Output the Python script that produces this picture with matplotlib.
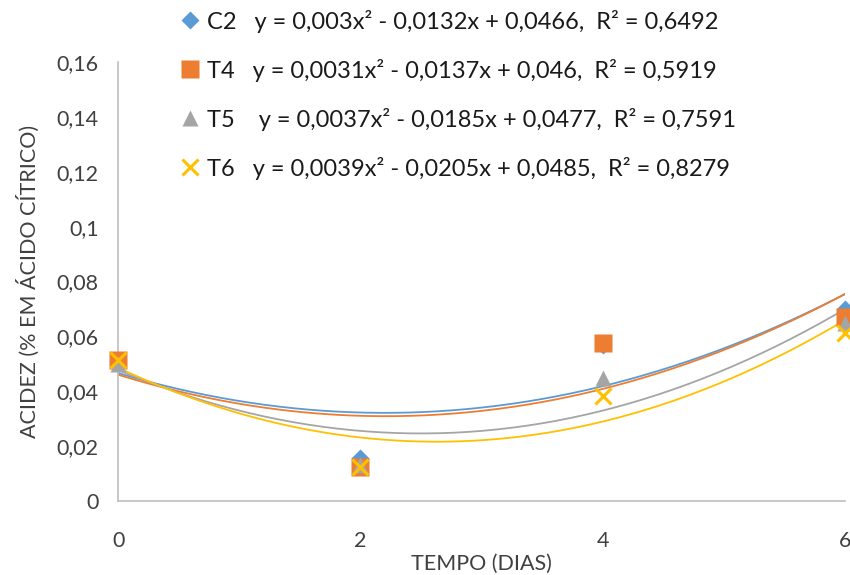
import numpy as np
import matplotlib.pyplot as plt

plt.rcParams['font.family'] = ['Lato', 'DejaVu Sans']

# data
dias = [0, 2, 4, 6]
series = ['C2', 'T4', 'T5', 'T6']
acidez_c2 = [0.051, 0.0158, 0.057, 0.070]
acidez_t4 = [0.0515, 0.0125, 0.0575, 0.067]
acidez_t5 = [0.050, 0.013, 0.0448, 0.065]
acidez_t6 = [0.0515, 0.0125, 0.0382, 0.0612]

# trendline coefficients (a, b, c) from the chart labels
coef_c2 = [0.003, -0.0132, 0.0466]
coef_t4 = [0.0031, -0.0137, 0.046]
coef_t5 = [0.0037, -0.0185, 0.0477]
coef_t6 = [0.0039, -0.0205, 0.0485]
eq_labels = ['y = 0,003x² - 0,0132x + 0,0466,  R² = 0,6492',
             'y = 0,0031x² - 0,0137x + 0,046,  R² = 0,5919',
             ' y = 0,0037x² - 0,0185x + 0,0477,  R² = 0,7591',
             'y = 0,0039x² - 0,0205x + 0,0485,  R² = 0,8279']

y_ticks = [0, 0.02, 0.04, 0.06, 0.08, 0.1, 0.12, 0.14, 0.16]
y_tick_labels = ['0', '0,02', '0,04', '0,06', '0,08', '0,1', '0,12', '0,14', '0,16']

colors = ['#5B9BD5', '#ED7D31', '#A5A5A5', '#FFC000']
markers = ['D', 's', '^', 'x']
msizes = [9, 13, 12, 12]

fig = plt.figure(figsize=(8.5, 5.75), dpi=100)
ax = fig.add_axes([0.139, 0.129, 0.855, 0.763])

xs = np.linspace(0, 6, 200)
all_vals = [acidez_c2, acidez_t4, acidez_t5, acidez_t6]
all_coef = [coef_c2, coef_t4, coef_t5, coef_t6]
handles = []
for i in range(4):
    ax.plot(xs, np.polyval(all_coef[i], xs), color=colors[i], lw=1.3, zorder=2)
for i in range(4):
    if markers[i] == 'x':
        h, = ax.plot(dias, all_vals[i], linestyle='none', marker='x', ms=msizes[i],
                     mew=2.2, color=colors[i], zorder=3 + i, clip_on=False)
    else:
        h, = ax.plot(dias, all_vals[i], linestyle='none', marker=markers[i], ms=msizes[i],
                     mec='none', color=colors[i], zorder=3 + i, clip_on=False)
    handles.append(h)

ax.set_xlim(0, 6)
ax.set_ylim(0, 0.16)
ax.set_xticks([0, 2, 4, 6])
ax.set_yticks(y_ticks)
ax.set_yticklabels(y_tick_labels)
ax.tick_params(length=0, labelsize=15.5, colors='#404040')
ax.tick_params(axis='x', pad=22)
ax.tick_params(axis='y', pad=14)
for s in ['top', 'right']:
    ax.spines[s].set_visible(False)
for s in ['left', 'bottom']:
    ax.spines[s].set_color('#BFBFBF')
    ax.spines[s].set_linewidth(1.2)

ax.set_xlabel('TEMPO (DIAS)', fontsize=15.5, color='#404040', labelpad=2)
ax.set_ylabel('ACIDEZ (% EM ÁCIDO CÍTRICO)', fontsize=15.5, color='#404040', labelpad=12)

labels = [f'{series[i]}   {eq_labels[i]}' for i in range(4)]
fig.legend(handles, labels, loc='upper left', bbox_to_anchor=(0.186, 1.02),
           frameon=False, fontsize=17, handlelength=0.9, handletextpad=0.25,
           labelspacing=1.1, labelcolor='#1a1a1a')

fig.savefig('out.png', dpi=100)
